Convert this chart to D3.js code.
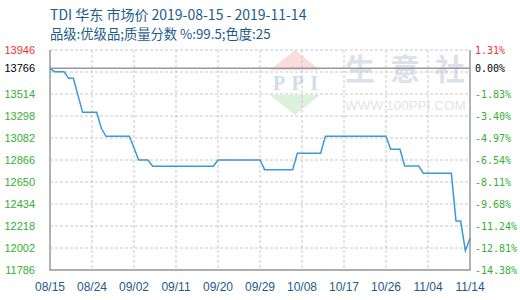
<!DOCTYPE html>
<html>
<head>
<meta charset="utf-8">
<script src="https://cdn.jsdelivr.net/npm/d3@7"></script>
<style>
  body { margin: 0; background: #fff; }
  svg { display: block; }
</style>
</head>
<body>
<div id="chart"></div>
<script>
// TDI east china market price, 2019-08-15 .. 2019-11-14
const title = 'TDI 华东 市场价 2019-08-15 - 2019-11-14';
const subtitle = '品级:优级品;质量分数 %:99.5;色度:25';

// x axis is a sample index: 0 = 08/15, 90 = 11/14
const xTicks = [0, 9, 18, 27, 36, 45, 54, 63, 72, 81, 90];
const xLabels = ['08/15', '08/24', '09/02', '09/11', '09/20', '09/29', '10/08', '10/17', '10/26', '11/04', '11/14'];

const yGrid = [13946, 13730, 13514, 13298, 13082, 12866, 12650, 12434, 12218, 12002, 11786];
const yLabels = [13946, 13766, 13514, 13298, 13082, 12866, 12650, 12434, 12218, 12002, 11786];
const pctLabels = ['1.31%', '0.00%', '-1.83%', '-3.40%', '-4.97%', '-6.54%', '-8.11%', '-9.68%', '-11.24%', '-12.81%', '-14.38%'];
const basePrice = 13766;

// price change points
const days = [0, 1, 3, 4, 5, 6, 7, 10, 11, 12, 17, 18, 19, 21, 22, 35, 36, 45, 46, 52, 53, 58, 59, 72, 73, 75, 76, 79, 80, 86, 87, 88, 89, 90];
const prices = [13766, 13733, 13733, 13668, 13668, 13500, 13334, 13334, 13177, 13099, 13099, 12984, 12866, 12866, 12804, 12804, 12866, 12866, 12771, 12771, 12932, 12932, 13098, 13098, 12971, 12971, 12807, 12807, 12735, 12735, 12267, 12267, 11976, 12097];

const width = 520, height = 300;
const pLeft = 50, pRight = 470, pTop = 50, pBottom = 270;

const svg = d3.select('#chart').append('svg')
    .attr('width', width)
    .attr('height', height);

const x = d3.scaleLinear().domain([0, 90]).range([pLeft, pRight]);
const y = d3.scaleLinear().domain([11786, 13946]).range([pBottom, pTop]);

// titles
svg.append('text')
    .attr('x', 50).attr('y', 20)
    .attr('fill', '#1d5b88')
    .style('font', '14px "Noto Sans CJK SC", "Liberation Sans", sans-serif')
    .text(title);
svg.append('text')
    .attr('x', 50).attr('y', 39)
    .attr('fill', '#1d5b88')
    .style('font', '13.3px "Noto Sans CJK SC", "Liberation Sans", sans-serif')
    .text(subtitle);

// watermark
const wm = svg.append('g');
wm.append('path')
    .attr('d', 'M295,50 L270,70 L320,70 Z')
    .attr('fill', '#fbdcdc');
wm.append('path')
    .attr('d', 'M270,95 L320,95 L295,115 Z')
    .attr('fill', '#dbf1db');
wm.append('text')
    .attr('x', 273).attr('y', 90)
    .attr('textLength', 45)
    .attr('lengthAdjust', 'spacing')
    .attr('fill', '#d3dbea')
    .style('font', 'bold 20px "Liberation Serif", serif')
    .text('PPI');
wm.selectAll('text.wm-char')
    .data(['生', '意', '社'])
    .join('text')
    .attr('class', 'wm-char')
    .attr('x', (d, i) => 345 + i * 45)
    .attr('y', 80)
    .attr('fill', '#dde1ec')
    .style('font', 'bold 30px "Noto Sans CJK SC", sans-serif')
    .text(d => d);
wm.append('text')
    .attr('x', 345).attr('y', 110)
    .attr('fill', '#e4e4e4')
    .style('font', '13.5px "Liberation Sans", sans-serif')
    .text('WWW.100PPI.COM');

// grid
svg.append('g')
    .selectAll('line')
    .data(yGrid)
    .join('line')
    .attr('x1', pLeft).attr('x2', pRight)
    .attr('y1', d => y(d)).attr('y2', d => y(d))
    .attr('stroke', '#c8c8c8')
    .attr('stroke-dasharray', '3,2');

svg.append('g')
    .selectAll('line')
    .data(xTicks.slice(1, -1))
    .join('line')
    .attr('x1', d => x(d)).attr('x2', d => x(d))
    .attr('y1', pTop).attr('y2', pBottom)
    .attr('stroke', '#c8c8c8')
    .attr('stroke-dasharray', '3,2');

// frame and base line
svg.append('path')
    .attr('d', `M${pLeft},${pTop}V${pBottom}H${pRight}V${pTop}`)
    .attr('fill', 'none')
    .attr('stroke', '#999')
    .attr('stroke-width', 1.5);

svg.append('line')
    .attr('x1', pLeft).attr('x2', pRight)
    .attr('y1', y(basePrice)).attr('y2', y(basePrice))
    .attr('stroke', '#999')
    .attr('stroke-width', 1.5);

// price line
const line = d3.line()
    .x((d, i) => x(days[i]))
    .y(d => y(d));

svg.append('path')
    .datum(prices)
    .attr('d', line)
    .attr('fill', 'none')
    .attr('stroke', '#3a9ad9')
    .attr('stroke-width', 1.5);

function labelColor(v) {
    if (v > basePrice) return '#ee3333';
    if (v === basePrice) return '#000';
    return '#33b033';
}

// left axis labels
svg.append('g')
    .selectAll('text')
    .data(yLabels)
    .join('text')
    .attr('x', 35)
    .attr('y', d => y(d))
    .attr('dy', '0.35em')
    .attr('text-anchor', 'end')
    .attr('fill', labelColor)
    .style('font', '11px "Liberation Sans", sans-serif')
    .text(d => d);

// right axis labels, change vs base price
svg.append('g')
    .selectAll('text')
    .data(yLabels)
    .join('text')
    .attr('x', 475)
    .attr('y', d => y(d))
    .attr('dy', '0.35em')
    .attr('fill', labelColor)
    .style('font', '10px "DejaVu Sans Mono", monospace')
    .text((d, i) => pctLabels[i]);

// x axis labels
svg.append('g')
    .selectAll('text')
    .data(xTicks)
    .join('text')
    .attr('x', d => x(d))
    .attr('y', 291)
    .attr('text-anchor', 'middle')
    .attr('fill', '#1d5b88')
    .style('font', '12px "Liberation Sans", sans-serif')
    .text((d, i) => xLabels[i]);
</script>
</body>
</html>
